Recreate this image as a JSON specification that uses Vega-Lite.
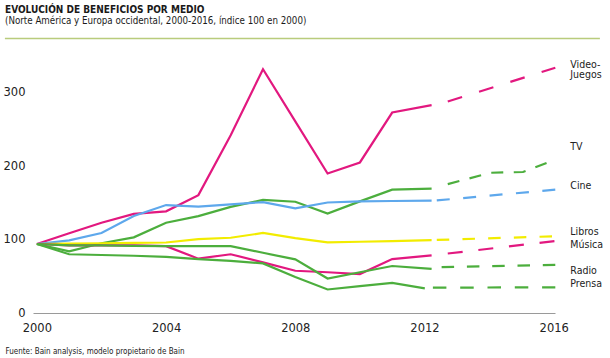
{
  "$schema": "https://vega.github.io/schema/vega-lite/v6.json",
  "autosize": {"type": "none"},
  "width": 522,
  "height": 257,
  "padding": {"left": 33, "top": 56, "right": 55, "bottom": 45},
  "background": "white",
  "config": {
    "view": {"stroke": null},
    "font": "Liberation Sans Narrow, DejaVu Sans Condensed, sans-serif"
  },
  "title": {
    "text": "EVOLUCIÓN DE BENEFICIOS POR MEDIO",
    "subtitle": "(Norte América y Europa occidental, 2000-2016, índice 100 en 2000)",
    "anchor": "start",
    "frame": "group",
    "dx": -28,
    "offset": 12,
    "font": "DejaVu Sans Condensed, Liberation Sans Narrow, sans-serif",
    "fontSize": 10,
    "fontWeight": "bold",
    "color": "#1a1a1a",
    "subtitleFont": "Liberation Sans Narrow, DejaVu Sans Condensed, sans-serif",
    "subtitleFontSize": 9.7,
    "subtitleColor": "#1a1a1a",
    "subtitlePadding": 1.5
  },
  "datasets": {
    "series": [
      {"medio": "Videojuegos", "tipo": "real", "anio": 2000, "valor": 94},
      {"medio": "Videojuegos", "tipo": "real", "anio": 2001, "valor": 108.5},
      {"medio": "Videojuegos", "tipo": "real", "anio": 2002, "valor": 123},
      {"medio": "Videojuegos", "tipo": "real", "anio": 2003, "valor": 135},
      {"medio": "Videojuegos", "tipo": "real", "anio": 2004, "valor": 138.5},
      {"medio": "Videojuegos", "tipo": "real", "anio": 2005, "valor": 160.5},
      {"medio": "Videojuegos", "tipo": "real", "anio": 2006, "valor": 242},
      {"medio": "Videojuegos", "tipo": "real", "anio": 2007, "valor": 332},
      {"medio": "Videojuegos", "tipo": "real", "anio": 2008, "valor": 261},
      {"medio": "Videojuegos", "tipo": "real", "anio": 2009, "valor": 190},
      {"medio": "Videojuegos", "tipo": "real", "anio": 2010, "valor": 205},
      {"medio": "Videojuegos", "tipo": "real", "anio": 2011, "valor": 273},
      {"medio": "Videojuegos", "tipo": "real", "anio": 2012.22, "valor": 283},
      {"medio": "Videojuegos", "tipo": "proyeccion", "anio": 2012.72, "valor": 288},
      {"medio": "Videojuegos", "tipo": "proyeccion", "anio": 2016.05, "valor": 334},

      {"medio": "TV", "tipo": "real", "anio": 2000, "valor": 94},
      {"medio": "TV", "tipo": "real", "anio": 2001, "valor": 84},
      {"medio": "TV", "tipo": "real", "anio": 2002, "valor": 95},
      {"medio": "TV", "tipo": "real", "anio": 2003, "valor": 103},
      {"medio": "TV", "tipo": "real", "anio": 2004, "valor": 123},
      {"medio": "TV", "tipo": "real", "anio": 2005, "valor": 132},
      {"medio": "TV", "tipo": "real", "anio": 2006, "valor": 144.5},
      {"medio": "TV", "tipo": "real", "anio": 2007, "valor": 154},
      {"medio": "TV", "tipo": "real", "anio": 2008, "valor": 151.5},
      {"medio": "TV", "tipo": "real", "anio": 2009, "valor": 135.5},
      {"medio": "TV", "tipo": "real", "anio": 2010, "valor": 152},
      {"medio": "TV", "tipo": "real", "anio": 2011, "valor": 168},
      {"medio": "TV", "tipo": "real", "anio": 2012.22, "valor": 169.5},
      {"medio": "TV", "tipo": "proyeccion", "anio": 2012.72, "valor": 175.5},
      {"medio": "TV", "tipo": "proyeccion", "anio": 2014.04, "valor": 191},
      {"medio": "TV", "tipo": "proyeccion", "anio": 2015.05, "valor": 192},
      {"medio": "TV", "tipo": "proyeccion", "anio": 2016.05, "valor": 209},

      {"medio": "Cine", "tipo": "real", "anio": 2000, "valor": 94},
      {"medio": "Cine", "tipo": "real", "anio": 2001, "valor": 99},
      {"medio": "Cine", "tipo": "real", "anio": 2002, "valor": 109},
      {"medio": "Cine", "tipo": "real", "anio": 2003, "valor": 132},
      {"medio": "Cine", "tipo": "real", "anio": 2004, "valor": 147},
      {"medio": "Cine", "tipo": "real", "anio": 2005, "valor": 145},
      {"medio": "Cine", "tipo": "real", "anio": 2006, "valor": 148},
      {"medio": "Cine", "tipo": "real", "anio": 2007, "valor": 151},
      {"medio": "Cine", "tipo": "real", "anio": 2008, "valor": 142.5},
      {"medio": "Cine", "tipo": "real", "anio": 2009, "valor": 150.5},
      {"medio": "Cine", "tipo": "real", "anio": 2010, "valor": 152},
      {"medio": "Cine", "tipo": "real", "anio": 2011, "valor": 152.5},
      {"medio": "Cine", "tipo": "real", "anio": 2012.22, "valor": 153},
      {"medio": "Cine", "tipo": "proyeccion", "anio": 2012.38, "valor": 153.3},
      {"medio": "Cine", "tipo": "proyeccion", "anio": 2016.05, "valor": 168},

      {"medio": "Libros", "tipo": "real", "anio": 2000, "valor": 94},
      {"medio": "Libros", "tipo": "real", "anio": 2001, "valor": 94.5},
      {"medio": "Libros", "tipo": "real", "anio": 2002, "valor": 95},
      {"medio": "Libros", "tipo": "real", "anio": 2003, "valor": 95.5},
      {"medio": "Libros", "tipo": "real", "anio": 2004, "valor": 96},
      {"medio": "Libros", "tipo": "real", "anio": 2005, "valor": 100.7},
      {"medio": "Libros", "tipo": "real", "anio": 2006, "valor": 102.5},
      {"medio": "Libros", "tipo": "real", "anio": 2007, "valor": 109},
      {"medio": "Libros", "tipo": "real", "anio": 2008, "valor": 102},
      {"medio": "Libros", "tipo": "real", "anio": 2009, "valor": 96.2},
      {"medio": "Libros", "tipo": "real", "anio": 2010, "valor": 97},
      {"medio": "Libros", "tipo": "real", "anio": 2011, "valor": 98},
      {"medio": "Libros", "tipo": "real", "anio": 2012.22, "valor": 99.3},
      {"medio": "Libros", "tipo": "proyeccion", "anio": 2012.38, "valor": 99.5},
      {"medio": "Libros", "tipo": "proyeccion", "anio": 2016.05, "valor": 104.5},

      {"medio": "Música", "tipo": "real", "anio": 2000, "valor": 94},
      {"medio": "Música", "tipo": "real", "anio": 2001, "valor": 92},
      {"medio": "Música", "tipo": "real", "anio": 2002, "valor": 92},
      {"medio": "Música", "tipo": "real", "anio": 2003, "valor": 92},
      {"medio": "Música", "tipo": "real", "anio": 2004, "valor": 91},
      {"medio": "Música", "tipo": "real", "anio": 2005, "valor": 74},
      {"medio": "Música", "tipo": "real", "anio": 2006, "valor": 80},
      {"medio": "Música", "tipo": "real", "anio": 2007, "valor": 69},
      {"medio": "Música", "tipo": "real", "anio": 2008, "valor": 57.5},
      {"medio": "Música", "tipo": "real", "anio": 2009, "valor": 55.5},
      {"medio": "Música", "tipo": "real", "anio": 2010, "valor": 53},
      {"medio": "Música", "tipo": "real", "anio": 2011, "valor": 73.5},
      {"medio": "Música", "tipo": "real", "anio": 2012.22, "valor": 78.5},
      {"medio": "Música", "tipo": "proyeccion", "anio": 2012.72, "valor": 81},
      {"medio": "Música", "tipo": "proyeccion", "anio": 2016.05, "valor": 98},

      {"medio": "Radio", "tipo": "real", "anio": 2000, "valor": 94},
      {"medio": "Radio", "tipo": "real", "anio": 2001, "valor": 92},
      {"medio": "Radio", "tipo": "real", "anio": 2002, "valor": 92},
      {"medio": "Radio", "tipo": "real", "anio": 2003, "valor": 91.5},
      {"medio": "Radio", "tipo": "real", "anio": 2004, "valor": 91},
      {"medio": "Radio", "tipo": "real", "anio": 2005, "valor": 91},
      {"medio": "Radio", "tipo": "real", "anio": 2006, "valor": 91},
      {"medio": "Radio", "tipo": "real", "anio": 2007, "valor": 82},
      {"medio": "Radio", "tipo": "real", "anio": 2008, "valor": 73},
      {"medio": "Radio", "tipo": "real", "anio": 2009, "valor": 47},
      {"medio": "Radio", "tipo": "real", "anio": 2010, "valor": 55.5},
      {"medio": "Radio", "tipo": "real", "anio": 2011, "valor": 64},
      {"medio": "Radio", "tipo": "real", "anio": 2012.22, "valor": 60},
      {"medio": "Radio", "tipo": "proyeccion", "anio": 2012.53, "valor": 62.5},
      {"medio": "Radio", "tipo": "proyeccion", "anio": 2016.05, "valor": 65.5},

      {"medio": "Prensa", "tipo": "real", "anio": 2000, "valor": 94},
      {"medio": "Prensa", "tipo": "real", "anio": 2001, "valor": 80},
      {"medio": "Prensa", "tipo": "real", "anio": 2002, "valor": 79},
      {"medio": "Prensa", "tipo": "real", "anio": 2003, "valor": 78},
      {"medio": "Prensa", "tipo": "real", "anio": 2004, "valor": 76.5},
      {"medio": "Prensa", "tipo": "real", "anio": 2005, "valor": 73.5},
      {"medio": "Prensa", "tipo": "real", "anio": 2006, "valor": 71},
      {"medio": "Prensa", "tipo": "real", "anio": 2007, "valor": 67.5},
      {"medio": "Prensa", "tipo": "real", "anio": 2008, "valor": 49},
      {"medio": "Prensa", "tipo": "real", "anio": 2009, "valor": 32},
      {"medio": "Prensa", "tipo": "real", "anio": 2010, "valor": 36.5},
      {"medio": "Prensa", "tipo": "real", "anio": 2011, "valor": 41},
      {"medio": "Prensa", "tipo": "real", "anio": 2012.01, "valor": 33.6},
      {"medio": "Prensa", "tipo": "proyeccion", "anio": 2012.26, "valor": 34.5},
      {"medio": "Prensa", "tipo": "proyeccion", "anio": 2016.05, "valor": 35}
    ],
    "etiquetas": [
      {"medio": "Videojuegos", "texto": "Video-\nJuegos", "anio": 2016.05, "valor": 338},
      {"medio": "TV", "texto": "TV", "anio": 2016.05, "valor": 226},
      {"medio": "Cine", "texto": "Cine", "anio": 2016.05, "valor": 172.5},
      {"medio": "Libros", "texto": "Libros", "anio": 2016.05, "valor": 110.5},
      {"medio": "Música", "texto": "Música", "anio": 2016.05, "valor": 93},
      {"medio": "Radio", "texto": "Radio", "anio": 2016.05, "valor": 57.5},
      {"medio": "Prensa", "texto": "Prensa", "anio": 2016.05, "valor": 39.5}
    ],
    "regla": [
      {"desde": 1999.01, "hasta": 2017.43, "valor": 373.8}
    ]
  },
  "layer": [
    {
      "data": {"name": "regla"},
      "mark": {"type": "rule", "color": "#b9cc7c", "strokeWidth": 1.6, "clip": false},
      "encoding": {
        "x": {"field": "desde", "type": "quantitative", "scale": {"domain": [1999.88, 2016.04], "nice": false, "zero": false}},
        "x2": {"field": "hasta"},
        "y": {"field": "valor", "type": "quantitative", "scale": {"domain": [0, 350], "nice": false}}
      }
    },
    {
      "data": {"name": "series"},
      "transform": [{"filter": "datum.tipo === 'real'"}],
      "mark": {"type": "line", "strokeWidth": 2.2, "strokeJoin": "miter", "clip": false},
      "encoding": {
        "x": {
          "field": "anio", "type": "quantitative",
          "scale": {"domain": [1999.88, 2016.04], "nice": false, "zero": false},
          "axis": {
            "values": [2000, 2004, 2008, 2012, 2016],
            "format": "d",
            "title": "Fuente: Bain analysis, modelo propietario de Bain",
            "titleFont": "Liberation Sans Narrow, DejaVu Sans Condensed, sans-serif",
            "titleFontSize": 8,
            "titleFontWeight": "normal",
            "titleColor": "#222",
            "titleAnchor": "start",
            "titleAlign": "left",
            "titleBaseline": "alphabetic",
            "titleX": -28,
            "titleY": 40,
            "ticks": false,
            "grid": false,
            "domainColor": "#9a9a9a",
            "domainWidth": 1,
            "labelFont": "DejaVu Sans",
            "labelFontSize": 11.5,
            "labelColor": "#222",
            "labelPadding": 9,
            "labelFlush": false
          }
        },
        "y": {
          "field": "valor", "type": "quantitative",
          "scale": {"domain": [0, 350], "nice": false},
          "axis": {
            "values": [0, 100, 200, 300],
            "title": null,
            "ticks": false,
            "domain": false,
            "grid": false,
            "labelFont": "DejaVu Sans",
            "labelFontSize": 11.5,
            "labelColor": "#222",
            "labelPadding": 8
          }
        },
        "color": {
          "field": "medio", "type": "nominal", "legend": null,
          "scale": {
            "domain": ["Videojuegos", "TV", "Cine", "Libros", "Música", "Radio", "Prensa"],
            "range": ["#e2187f", "#4cae3d", "#5ea8ec", "#f2ec00", "#e2187f", "#4cae3d", "#4cae3d"]
          }
        },
        "detail": {"field": "tipo"},
        "order": {"field": "anio", "type": "quantitative"}
      }
    },
    {
      "data": {"name": "series"},
      "transform": [{"filter": "datum.tipo === 'proyeccion'"}],
      "mark": {"type": "line", "strokeWidth": 2.2, "strokeCap": "butt", "clip": false},
      "encoding": {
        "x": {"field": "anio", "type": "quantitative"},
        "y": {"field": "valor", "type": "quantitative"},
        "color": {"field": "medio", "type": "nominal", "legend": null},
        "strokeDash": {
          "field": "medio", "type": "nominal", "legend": null,
          "scale": {
            "domain": ["Videojuegos", "TV", "Cine", "Libros", "Música", "Radio", "Prensa"],
            "range": [[15, 17.8], [12, 10.5], [13, 13.5], [12.5, 13.2], [15, 15.8], [12.5, 12.8], [13.5, 13.8]]
          }
        },
        "order": {"field": "anio", "type": "quantitative"}
      }
    },
    {
      "data": {"name": "etiquetas"},
      "mark": {
        "type": "text", "align": "left", "baseline": "middle", "dx": 15,
        "lineBreak": "\n", "lineHeight": 10.5,
        "font": "Liberation Sans Narrow, DejaVu Sans Condensed, sans-serif",
        "fontSize": 10.5, "color": "#222", "clip": false
      },
      "encoding": {
        "x": {"field": "anio", "type": "quantitative"},
        "y": {"field": "valor", "type": "quantitative"},
        "text": {"field": "texto"}
      }
    }
  ]
}
